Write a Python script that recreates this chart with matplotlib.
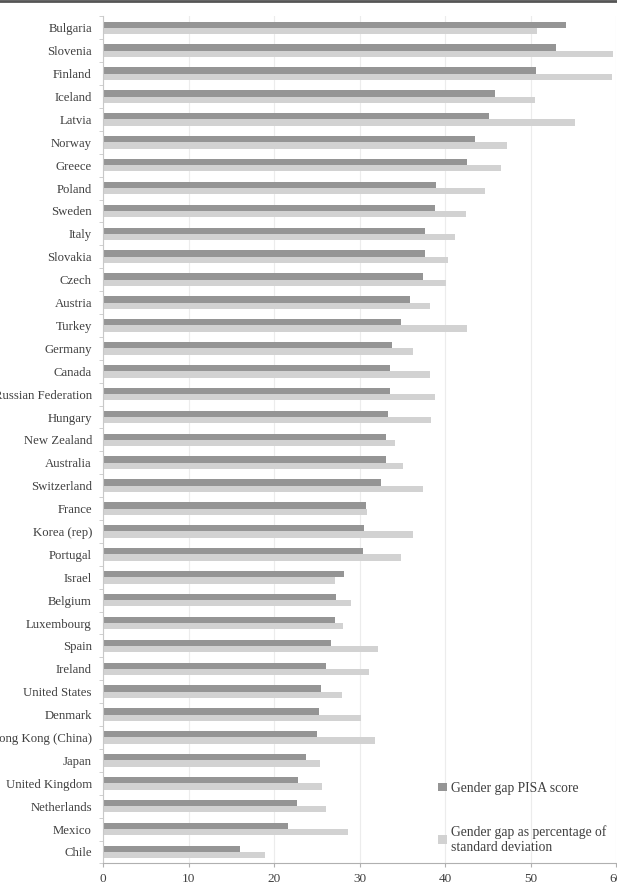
import numpy as np
from matplotlib import pyplot as plt
from matplotlib.lines import Line2D

countries = ['Bulgaria', 'Slovenia', 'Finland', 'Iceland', 'Latvia', 'Norway',
             'Greece', 'Poland', 'Sweden', 'Italy', 'Slovakia', 'Czech',
             'Austria', 'Turkey', 'Germany', 'Canada', 'Russian Federation',
             'Hungary', 'New Zealand', 'Australia', 'Switzerland', 'France',
             'Korea (rep)', 'Portugal', 'Israel', 'Belgium', 'Luxembourg',
             'Spain', 'Ireland', 'United States', 'Denmark', 'Hong Kong (China)',
             'Japan', 'United Kingdom', 'Netherlands', 'Mexico', 'Chile']

pisa_gap = [54.2, 53.0, 50.6, 45.8, 45.1, 43.5, 42.6, 38.9, 38.8, 37.6, 37.6,
            37.4, 35.9, 34.8, 33.8, 33.6, 33.6, 33.3, 33.1, 33.1, 32.5, 30.7,
            30.5, 30.4, 28.2, 27.3, 27.1, 26.7, 26.1, 25.5, 25.3, 25.0, 23.7,
            22.8, 22.7, 21.6, 16.0]

pct_sd_gap = [50.8, 59.7, 59.5, 50.5, 55.2, 47.3, 46.6, 44.7, 42.4, 41.2, 40.3,
              40.1, 38.3, 42.6, 36.3, 38.3, 38.8, 38.4, 34.2, 35.1, 37.4, 30.9,
              36.2, 34.8, 27.1, 29.0, 28.1, 32.2, 31.1, 27.9, 30.2, 31.8, 25.4,
              25.6, 26.1, 28.6, 18.9]

x_ticks = [0, 10, 20, 30, 40, 50, 60]

plt.rcParams['font.family'] = ['Liberation Serif', 'DejaVu Serif']

fig = plt.figure(figsize=(6.17, 8.86), dpi=100)
ax = fig.add_axes([0.167, 0.0255, 0.8314, 0.956])

y = np.arange(len(countries))
h = 0.275
ax.barh(y - h / 2, pisa_gap, height=h, color='#959595',
        label='Gender gap PISA score', zorder=2)
ax.barh(y + h / 2, pct_sd_gap, height=h, color='#d2d2d2',
        label='Gender gap as percentage of\nstandard deviation', zorder=2)

ax.set_ylim(len(countries) - 0.5, -0.5)
ax.set_xlim(0, 60)
ax.set_yticks(y)
ax.set_yticklabels(countries, fontsize=9.2, color='#404040')
ax.set_yticks(np.arange(len(countries) + 1) - 0.5, minor=True)
ax.tick_params(axis='y', which='major', length=0, pad=8)
ax.tick_params(axis='y', which='minor', length=3, color='#c8c8c8')

ax.set_xticks(x_ticks)
ax.tick_params(axis='x', labelsize=9.5, labelcolor='#404040', length=3,
               color='#b0b0b0', pad=4)
ax.grid(axis='x', color='#ececec', linewidth=0.8, zorder=0)

for s in ['top', 'right']:
    ax.spines[s].set_visible(False)
ax.spines['left'].set_color('#c8c8c8')
ax.spines['bottom'].set_color('#b0b0b0')

ax.legend(loc='lower left', bbox_to_anchor=(0.63, -0.003), frameon=False,
          fontsize=9.8, handlelength=0.6, handleheight=0.6, handletextpad=0.3,
          labelspacing=2.2, labelcolor='#404040')

fig.add_artist(Line2D([0, 1], [0.999, 0.999], transform=fig.transFigure,
                      color='#555555', linewidth=2))

fig.savefig('out.png', dpi=100)
